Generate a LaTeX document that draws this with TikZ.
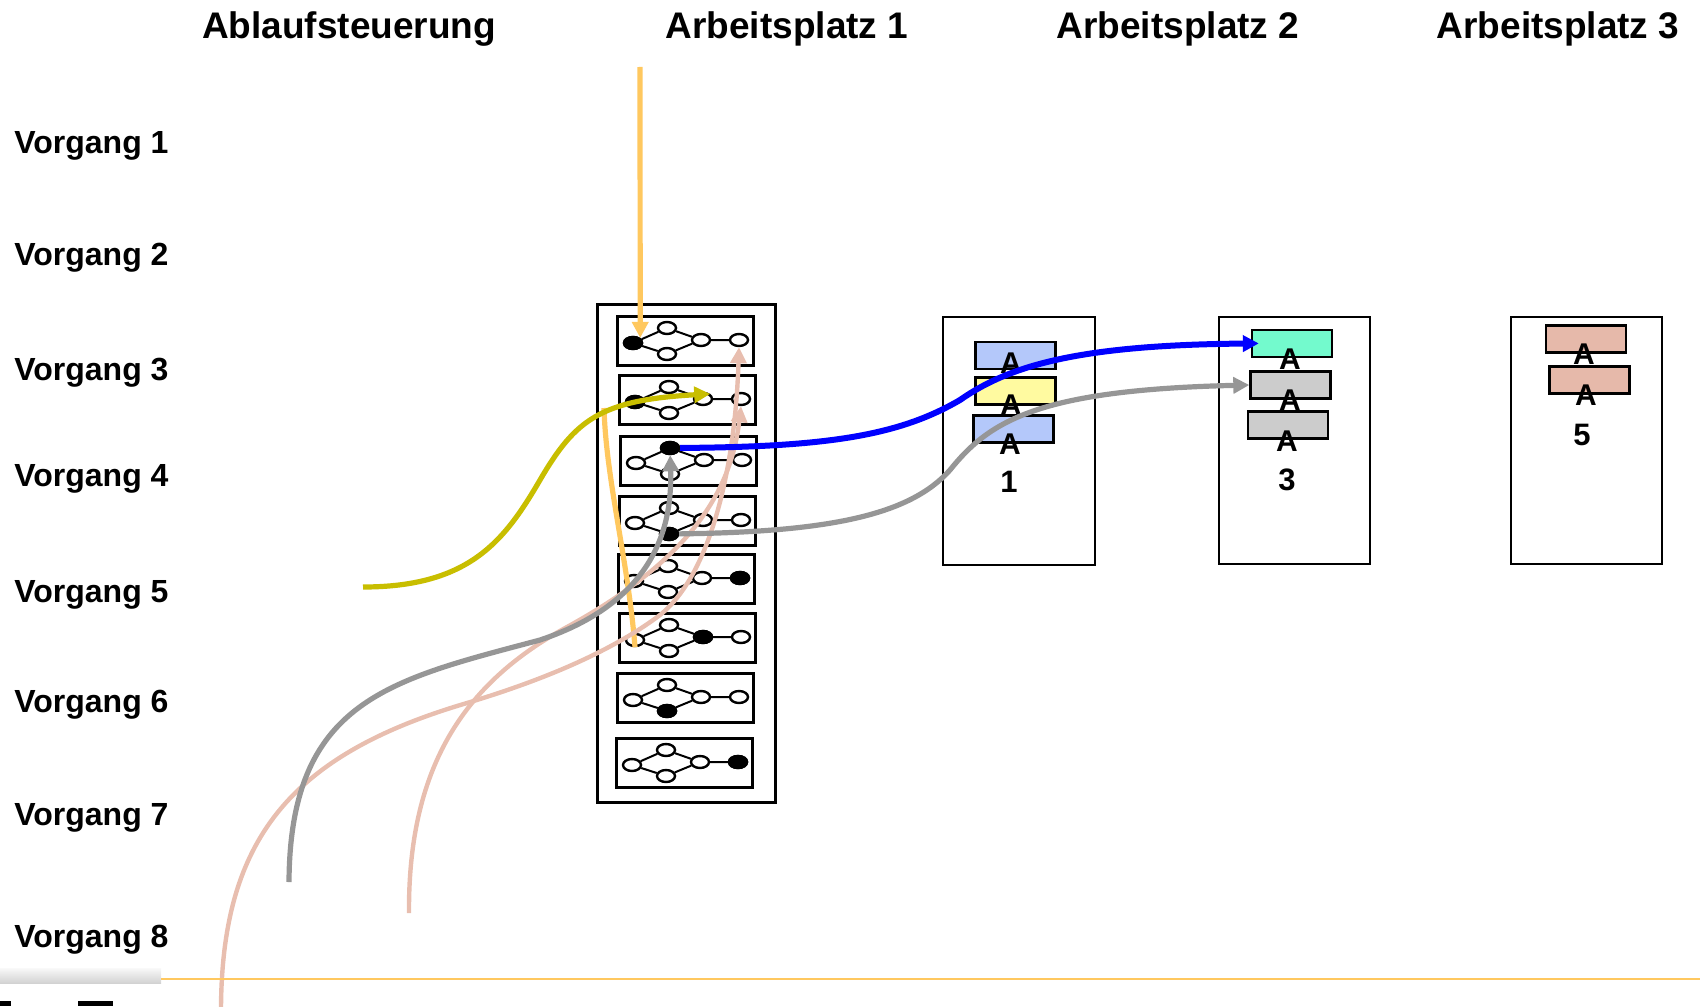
\documentclass[tikz,border=0pt]{standalone}
\usepackage{fontspec}
\setmainfont{Liberation Sans}
\usetikzlibrary{arrows.meta,shapes.geometric}

\definecolor{ordercol}{RGB}{255,200,95}
\definecolor{olivecol}{RGB}{200,190,0}
\definecolor{greycol}{RGB}{150,150,150}
\definecolor{salmoncol}{RGB}{232,190,175}
\definecolor{bluecol}{RGB}{0,0,255}
\definecolor{barblue}{RGB}{180,200,250}
\definecolor{baryellow}{RGB}{255,250,160}
\definecolor{barteal}{RGB}{115,250,205}
\definecolor{bargrey}{RGB}{204,204,204}
\definecolor{barsalmon}{RGB}{230,185,170}

\tikzset{
  header/.style={font=\bfseries\fontsize{18.5}{22}\selectfont, inner sep=0},
  rowlabel/.style={font=\bfseries\fontsize{16}{19}\selectfont, anchor=west, inner sep=0},
  number/.style={font=\bfseries\fontsize{15.5}{18}\selectfont, inner sep=0},
  glyph/.style={font=\bfseries\fontsize{15}{17}\selectfont, inner sep=0},
  station/.style={draw, line width=1pt},
  slot/.style={draw, line width=1.5pt},
  bar/.style={draw, line width=1.2pt, minimum width=40pt, minimum height=13.5pt, inner sep=0},
  stepnode/.style={ellipse, draw, fill=white, line width=1.2pt, minimum width=9pt, minimum height=6pt, inner sep=0},
  stepline/.style={line width=1pt},
  flow/.style={line width=2.6pt, -{Triangle[length=8pt,width=8pt]}},
}

\begin{document}
\begin{tikzpicture}[x=0.5pt,y=0.5pt,yscale=-1]
\useasboundingbox (0,0) rectangle (1700,1006);

% headers
\node[header] (hsteuer) at (349,29) {Ablaufsteuerung};
\node[header] (hplatz1) at (787,29) {Arbeitsplatz 1};
\node[header] (hplatz2) at (1178,29) {Arbeitsplatz 2};
\node[header] (hplatz3) at (1558,29) {Arbeitsplatz 3};

% rows
\node[rowlabel] (v1) at (14,146) {Vorgang 1};
\node[rowlabel] (v2) at (14,258) {Vorgang 2};
\node[rowlabel] (v3) at (14,373) {Vorgang 3};
\node[rowlabel] (v4) at (14,479) {Vorgang 4};
\node[rowlabel] (v5) at (14,595) {Vorgang 5};
\node[rowlabel] (v6) at (14,705) {Vorgang 6};
\node[rowlabel] (v7) at (14,818) {Vorgang 7};
\node[rowlabel] (v8) at (14,940) {Vorgang 8};

% Ablaufsteuerung with its eight work flows
\draw[slot] (597,304) rectangle (775,802);
\foreach \x/\y/\f [count=\i] in {617/316/l, 619/375/l, 620/436/t, 619/496/b, 618/554/r, 619/613/m, 617/673/b, 616/738/r} {
  \draw[slot] (\x,\y) rectangle ++(136,49);
  \node[stepnode] (w\i-l) at (\x+16,\y+27) {};
  \node[stepnode] (w\i-t) at (\x+50,\y+12) {};
  \node[stepnode] (w\i-b) at (\x+50,\y+38) {};
  \node[stepnode] (w\i-m) at (\x+84,\y+24) {};
  \node[stepnode] (w\i-r) at (\x+122,\y+24) {};
  \draw[stepline] (w\i-l) -- (w\i-t) -- (w\i-m) -- (w\i-r) (w\i-l) -- (w\i-b) -- (w\i-m);
  \node[stepnode, fill=black] (w\i-on) at (w\i-\f) {};
}

% Arbeitsplatz 1
\draw[station] (943,317) rectangle (1095,565);
\node[bar, fill=barblue] (p1a) at (1015.5,355.5) {};
\node[bar, fill=baryellow] (p1b) at (1015.5,391) {};
\node[bar, fill=barblue] (p1c) at (1013.5,429) {};
\node[glyph] (g1a) at (1011,363) {A};
\node[glyph] (g1b) at (1011,405) {A};
\node[glyph] (g1c) at (1010,444) {A};
\node[number] (n1) at (1009,482) {1};

% Arbeitsplatz 2
\draw[station] (1219,317) rectangle (1370,564);
\node[bar, fill=barteal] (p2a) at (1292,343.5) {};
\node[bar, fill=bargrey] (p2b) at (1290.5,385) {};
\node[bar, fill=bargrey] (p2c) at (1288,425) {};
\node[glyph] (g2a) at (1290,359) {A};
\node[glyph] (g2b) at (1290,400) {A};
\node[glyph] (g2c) at (1287,441) {A};
\node[number] (n3) at (1287,480) {3};

% Arbeitsplatz 3
\draw[station] (1511,317) rectangle (1662,564);
\node[bar, fill=barsalmon] (p3a) at (1586,339) {};
\node[bar, fill=barsalmon] (p3b) at (1589.5,380) {};
\node[glyph] (g3a) at (1584,354) {A};
\node[glyph] (g3b) at (1586,395) {A};
\node[number] (n5) at (1582,435) {5};

% free ends
\coordinate (ordertop) at (640,67);
\coordinate (ordermid) at (604,408);
\coordinate (olivein) at (363,587);
\coordinate (greyin) at (289,882);
\coordinate (salmonina) at (409,913);
\coordinate (salmoninb) at (221,1008);

% flows
\draw[flow, color=ordercol] (ordertop) -- (w1-l.north east);
\draw[line width=2.6pt, color=ordercol] (ordermid) .. controls (606,480) and (628,560) .. (w6-l.south);
\draw[flow, color=olivecol] (olivein) .. controls (470,587) and (505,540) .. (540,480) .. controls (575,420) and (600,400) .. (w2-m.north east);
\draw[flow, line width=2.2pt, color=salmoncol] (salmonina) .. controls (408,760) and (470,680) .. (567,627) .. controls (680,565) and (730,500) .. (w2-r.south);
\draw[flow, line width=2.2pt, color=salmoncol] (salmoninb) .. controls (222,840) and (290,755) .. (467,703) .. controls (560,675) and (620,645) .. (660,615) .. controls (710,575) and (735,470) .. (w1-r.south);
\draw[flow, color=greycol] (greyin) .. controls (290,700) and (390,680) .. (540,640) .. controls (660,600) and (672,520) .. (w3-t);
\draw[flow, color=greycol] (w4-b) .. controls (830,532) and (910,515) .. (950,470) .. controls (990,420) and (1040,390) .. (p2b.west);
\draw[flow, line width=3pt, color=bluecol, shorten >=-4pt] (w3-t) .. controls (830,447) and (900,435) .. (960,400) .. controls (1010,365) and (1080,345) .. (p2a.west);

% footer
\shade[top color=gray!5, bottom color=gray!35] (0,968) rectangle (161,983);
\draw[line width=1pt, color=ordercol] (161,979) -- (1700,979);
\fill (0,1001) rectangle (11,1006);
\fill (78,1001) rectangle (113,1006);

\end{tikzpicture}
\end{document}
